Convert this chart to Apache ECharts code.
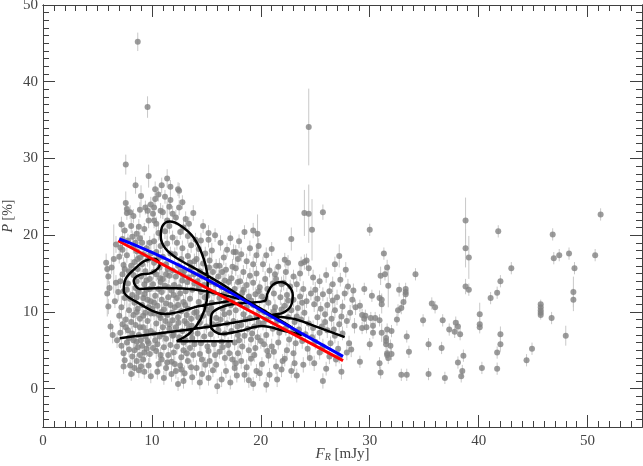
<!DOCTYPE html>
<html><head><meta charset="utf-8">
<script src="https://cdn.jsdelivr.net/npm/echarts@6/dist/echarts.min.js"></script>
<style>html,body{margin:0;padding:0;background:#fff}#c{width:643px;height:466px}</style>
</head><body><div id="c"></div>
<script>
// ---- data: [F_R (mJy), P (%), error of P (%)] ----
const cloudLeft = [
[5.8,16.4,1.2],[5.9,15.6,0.8],[6.0,14.6,1.0],[6.1,13.1,0.9],[5.9,12.4,3.0],[6.0,10.7,1.0],[6.2,8.1,0.8],[6.4,7.0,1.1],[6.6,11.4,0.9],[6.8,6.3,1.0],[6.5,16.9,4.5],[6.3,15.8,0.9],[6.7,13.8,1.0],[6.9,12.6,1.2],[7.0,17.2,0.9],[7.1,18.4,1.0],[7.0,9.5,0.8],[7.2,10.6,1.5],[7.3,8.4,0.9],[7.2,5.6,1.1],[7.4,4.6,0.9],[7.5,3.7,1.0],[7.3,14.9,0.8],[7.4,16.1,1.0],[7.6,24.2,1.5],[7.7,23.4,0.9],[7.7,22.9,0.9],[7.6,29.2,1.3],[7.3,19.5,1.0],[6.7,18.8,1.1],[7.3,18.1,0.8],[7.8,19.3,0.9],[7.5,11.8,1.0],[7.7,12.9,2.8],[7.8,7.6,1.0],[7.9,6.6,0.9],[7.6,9.0,1.2],[7.9,15.3,0.8],[7.8,13.7,1.0],[7.9,10.2,0.9],[7.7,17.4,1.0],[7.5,20.6,0.9],[7.9,5.1,1.0],[8.0,3.0,0.8],
[8.1,21.2,0.9],[8.8,21.1,1.0],[8.2,19.8,0.8],[8.6,20.2,1.0],[8.9,19.6,0.9],[8.5,26.5,1.1],[9.0,25.1,1.4],[9.7,27.7,1.5],[8.3,18.6,1.0],[8.6,17.9,0.9],[8.9,17.1,1.1],[8.4,16.5,1.0],[8.7,15.6,0.9],[9.1,16.2,1.0],[8.3,14.8,1.0],[8.6,14.0,1.0],[9.0,14.6,0.8],[9.3,13.6,1.1],[8.5,13.1,0.9],[8.2,12.2,1.2],[8.8,12.6,1.0],[9.2,11.8,0.9],[9.5,12.9,1.0],[8.4,11.2,0.9],[8.7,10.4,1.1],[9.1,10.9,1.0],[9.4,9.9,0.8],[8.3,9.6,1.0],[8.9,9.1,0.9],[9.6,8.8,1.2],[8.5,8.3,1.0],[9.2,8.0,0.9],[8.2,7.2,1.0],[8.8,7.0,1.1],[9.4,6.8,0.9],[8.6,6.1,1.0],[9.1,5.6,1.0],[8.4,5.0,0.9],[9.5,5.2,1.1],[8.9,4.4,1.0],[8.6,3.6,0.9],[8.4,2.7,1.0],[9.2,3.8,0.9],[9.7,3.0,1.0],[9.3,2.2,0.9],[9.8,19.0,0.9],[9.5,18.3,1.0],[9.9,17.6,1.0],[9.6,16.8,0.9],[9.4,15.3,1.0],[9.8,14.3,3.5],[9.9,11.4,1.0],[9.7,10.6,0.9],[9.9,7.5,1.0],[9.6,6.2,0.9],[9.8,4.5,1.0],[9.4,23.6,0.9],[9.7,21.9,1.0],[9.6,23.2,0.9],[9.3,20.8,0.8],[8.0,23.0,0.9],[9.9,24.0,1.0],
[8.1,16.0,0.9],[8.7,16.9,1.0],[9.2,17.5,0.9],[8.0,11.7,1.0],[8.6,11.9,0.9],[9.3,12.3,1.0],[8.1,8.7,0.9],[8.9,8.0,1.0],[9.5,7.4,0.9],[8.3,6.3,1.0],[9.0,6.3,0.9],[9.7,5.9,1.0],[8.7,5.4,0.9],[9.3,4.7,1.0],[8.2,4.2,0.9],[9.0,2.9,1.0],[7.6,8.0,0.9],[7.4,12.7,1.0],[7.1,14.0,0.9],[7.5,15.6,1.0],[8.5,19.0,0.9],[9.1,19.0,1.0],[9.5,14.1,0.9],[9.8,13.0,1.0],[9.2,9.5,0.9],[9.9,9.8,1.0],[8.6,10.0,0.9],[9.6,11.6,1.0]
];
const cloudMid = [
[10.3,26.0,1.0],[10.9,26.5,1.0],[11.7,26.3,0.9],[10.3,24.7,1.0],[11.2,25.0,0.9],[11.7,24.6,1.0],[11.6,23.7,0.9],[11.4,27.4,1.2],[10.1,22.8,0.9],[10.8,23.2,1.0],[11.0,23.0,0.9],[10.2,23.6,1.0],[10.2,21.9,1.0],[10.4,21.5,0.9],[11.6,21.2,1.0],[11.2,20.5,1.0],[11.9,19.7,0.9],[10.6,20.3,1.0],[10.2,19.2,1.0],[10.8,18.6,0.9],[11.4,18.9,1.0],[10.4,17.8,1.1],[11.0,17.2,1.0],[11.7,17.6,0.9],[10.2,16.4,1.0],[10.7,15.8,0.9],[11.3,16.2,1.0],[11.9,15.4,1.0],[10.4,14.9,0.9],[11.0,14.3,1.0],[11.6,14.7,0.9],[10.1,13.6,1.0],[10.6,13.0,1.2],[11.2,13.4,0.9],[11.8,12.8,1.0],[10.3,12.1,1.0],[10.9,11.6,0.9],[11.5,11.9,1.0],[10.5,10.8,1.0],[11.1,10.3,0.9],[11.7,10.9,1.0],[10.2,9.8,0.9],[10.8,9.2,1.0],[11.4,9.6,1.0],[11.9,8.9,0.9],[10.4,8.5,1.0],[11.0,8.0,0.9],[11.6,7.8,1.0],[10.2,7.2,1.0],[10.7,6.8,0.9],[11.3,6.5,1.0],[11.9,6.9,0.9],[10.5,5.8,1.0],[11.1,5.4,0.9],[11.7,5.7,1.0],[10.4,4.9,1.0],[10.9,3.8,0.9],[11.3,2.7,1.0],[11.5,4.4,0.9],[10.6,3.2,1.0],[11.8,3.5,0.9],[10.9,12.6,3.2],[11.4,21.9,2.5],
[12.5,25.8,1.0],[12.4,26.0,0.9],[12.5,23.6,1.0],[12.6,20.4,0.9],[13.8,22.9,1.0],[13.4,21.5,0.9],[12.2,22.3,1.0],[12.9,21.0,0.9],[13.3,19.9,1.0],[12.3,19.0,0.9],[12.8,18.3,1.0],[13.6,18.7,1.0],[12.1,17.5,0.9],[12.7,16.9,1.0],[13.3,17.3,0.9],[13.9,16.6,1.0],[12.4,16.0,1.0],[13.0,15.4,0.9],[13.6,15.8,1.0],[12.2,14.6,1.0],[12.8,14.1,0.9],[13.4,14.5,1.0],[13.9,13.7,0.9],[12.5,13.2,1.0],[13.1,12.7,1.0],[13.7,12.9,0.9],[12.3,11.8,1.0],[12.9,11.3,0.9],[13.5,11.7,1.0],[12.1,10.6,1.0],[12.7,10.1,0.9],[13.3,10.4,1.0],[13.9,9.9,1.0],[12.4,9.3,0.9],[13.0,8.8,1.0],[13.6,9.1,0.9],[12.2,8.0,1.0],[12.8,7.5,1.0],[13.4,7.8,0.9],[12.5,6.7,1.0],[13.1,6.3,0.9],[13.7,6.6,1.0],[12.3,5.5,1.0],[12.9,5.0,0.9],[13.5,5.3,1.0],[12.7,4.1,1.0],[13.3,3.6,0.9],[12.2,2.3,1.0],[12.7,2.5,0.9],[13.0,2.0,1.0],[12.9,1.0,1.0],[13.8,4.4,0.9],[12.1,3.2,1.0],[13.6,2.8,0.9],[12.6,12.4,2.6],[13.2,8.5,3.0],
[10.6,17.0,0.9],[11.3,14.9,1.0],[10.8,13.9,0.9],[11.5,13.2,1.0],[10.2,11.2,0.9],[11.3,11.1,1.0],[10.9,10.0,0.9],[11.6,8.4,1.0],[10.3,6.3,0.9],[11.0,7.1,1.0],[12.0,12.2,0.9],[12.9,14.8,1.0],[13.5,16.4,0.9],[12.4,10.9,1.0],[13.2,9.6,0.9],[12.0,7.0,1.0],[12.9,6.0,0.9],[13.6,7.3,1.0]
];
const cloudCentre = [
[14.7,21.2,0.9],[15.2,20.3,1.0],[15.8,20.0,0.9],[14.5,19.3,1.0],[14.0,19.4,0.9],[15.2,19.4,1.0],[14.3,18.2,1.0],[14.9,17.6,0.9],[15.5,18.0,1.0],[14.1,16.9,1.0],[14.7,16.3,0.9],[15.3,16.7,1.0],[15.9,16.0,0.9],[14.4,15.3,1.0],[15.0,14.8,1.0],[15.6,15.2,0.9],[14.2,14.0,1.0],[14.8,13.5,0.9],[15.4,13.9,1.0],[14.5,12.6,1.0],[15.1,12.1,0.9],[15.7,12.5,1.0],[14.3,11.3,1.0],[14.9,10.8,0.9],[15.5,11.2,1.0],[14.1,10.0,0.9],[14.7,9.5,1.0],[15.3,9.8,1.0],[15.9,9.2,0.9],[14.4,8.6,1.0],[15.0,8.1,0.9],[15.6,8.4,1.0],[14.2,7.2,1.0],[14.8,6.8,0.9],[15.4,7.1,1.0],[14.5,5.9,1.0],[15.1,5.5,0.9],[15.7,5.8,1.0],[14.4,4.5,1.0],[15.3,3.6,0.9],[14.1,2.7,1.0],[14.9,3.1,1.0],[15.6,2.4,0.9],[15.2,1.4,1.0],[15.8,4.4,1.0],[14.6,1.9,0.9],[15.0,10.3,2.8],[14.3,13.2,3.5],
[16.9,18.1,0.9],[17.5,17.8,1.0],[17.7,17.8,0.9],[16.3,19.0,1.0],[17.2,19.6,0.9],[16.6,17.1,1.0],[17.9,16.9,1.0],[16.2,16.0,1.0],[16.8,15.5,0.9],[17.4,15.9,1.0],[17.7,15.7,1.0],[16.1,14.6,0.9],[16.7,14.1,1.0],[17.3,14.4,1.0],[17.9,13.9,0.9],[16.4,13.2,1.0],[17.0,12.7,1.0],[17.6,13.0,0.9],[16.2,11.8,1.0],[16.8,11.3,0.9],[17.4,11.6,1.0],[16.5,10.4,1.0],[17.1,9.9,0.9],[17.7,10.2,1.0],[16.3,9.0,1.0],[16.9,8.5,0.9],[17.5,8.8,1.0],[16.1,7.6,1.0],[16.7,7.2,0.9],[17.3,7.5,1.0],[17.9,7.0,1.0],[16.4,6.1,0.9],[17.0,5.7,1.0],[17.6,6.0,1.0],[16.2,4.8,0.9],[16.7,4.0,1.0],[17.4,3.8,1.0],[16.8,2.3,0.9],[17.6,2.7,1.0],[16.4,1.2,1.0],[17.2,0.8,0.9],[17.9,4.6,1.0],[16.6,12.3,2.9],
[18.5,20.4,0.9],[19.3,20.6,1.0],[19.7,20.2,2.5],[18.7,16.6,1.0],[19.3,16.2,1.0],[18.2,17.5,0.9],[19.0,18.3,1.0],[19.6,17.4,1.0],[18.4,15.2,0.9],[19.0,14.7,1.0],[19.6,15.0,1.0],[18.1,14.0,0.9],[18.7,13.5,1.0],[19.3,13.8,1.0],[19.9,13.2,0.9],[18.3,12.5,1.0],[18.9,12.0,1.0],[19.5,12.3,0.9],[18.1,11.1,1.0],[18.7,10.6,1.0],[19.3,10.9,0.9],[19.9,10.2,1.0],[18.4,9.7,1.0],[19.0,9.2,0.9],[19.6,9.5,1.0],[18.2,8.3,1.0],[18.8,7.8,0.9],[19.4,8.1,1.0],[18.5,6.9,1.0],[19.1,6.4,0.9],[19.7,6.7,1.0],[18.3,5.5,1.0],[18.9,5.0,0.9],[19.5,5.3,1.0],[18.5,1.8,1.0],[19.6,2.3,0.9],[19.9,2.0,1.0],[18.2,3.6,1.0],[19.1,3.9,0.9],[18.7,2.8,1.0],[19.3,0.6,0.9],[18.0,19.2,0.9],[19.8,18.6,1.0]
];
const cloudRight = [
[21.6,15.9,1.0],[22.2,16.8,0.9],[20.5,17.4,1.0],[21.0,18.2,0.9],[20.2,16.2,1.0],[20.8,15.4,0.9],[21.3,14.9,1.0],[20.4,14.3,1.0],[21.4,14.3,0.9],[21.9,13.6,1.0],[20.6,13.0,1.0],[21.2,12.4,0.9],[20.1,12.0,1.0],[21.8,11.9,1.0],[20.7,11.2,0.9],[21.3,10.6,1.0],[20.3,10.0,1.0],[21.9,10.3,0.9],[20.9,9.4,1.0],[21.5,8.8,1.0],[20.2,8.5,0.9],[21.1,7.8,1.0],[21.7,7.3,1.0],[20.5,7.0,0.9],[20.3,5.8,1.0],[21.0,5.5,1.0],[21.6,6.0,0.9],[20.7,4.3,1.0],[21.4,2.9,1.0],[22.0,3.6,0.9],[21.9,2.5,1.0],[20.8,1.8,0.9],[20.5,0.5,1.0],[21.2,4.8,1.0],[20.1,3.2,0.9],[21.5,1.2,1.0],
[22.8,19.5,1.5],[22.5,16.4,1.0],[23.7,16.3,0.9],[24.0,16.5,1.0],[24.2,16.7,0.9],[24.4,15.7,1.0],[24.0,22.9,3.0],[24.4,22.8,3.8],[24.7,20.7,4.0],[22.3,15.2,1.0],[23.0,14.6,0.9],[23.6,15.0,1.0],[22.1,13.8,1.0],[22.7,13.3,0.9],[23.3,13.6,1.0],[23.9,13.0,1.0],[22.4,12.2,0.9],[23.0,11.6,1.0],[23.6,12.0,1.0],[24.2,11.4,0.9],[22.2,10.8,1.0],[22.8,10.2,1.0],[23.4,10.5,0.9],[24.0,9.9,1.0],[22.5,9.3,1.0],[23.1,8.7,0.9],[23.7,9.0,1.0],[22.3,7.9,1.0],[22.9,7.4,0.9],[23.5,7.7,1.0],[24.1,7.1,1.0],[22.6,6.4,0.9],[23.2,5.9,1.0],[23.8,6.2,1.0],[22.4,5.0,0.9],[23.0,4.6,1.0],[24.3,5.2,1.0],[22.8,2.3,0.9],[23.9,3.1,1.0],[24.5,4.0,1.0],[23.3,1.7,0.9],[22.2,3.9,1.0],
[25.7,23.0,1.0],[26.8,16.2,1.0],[27.2,17.3,1.5],[27.8,15.5,1.0],[24.8,14.5,1.0],[25.4,14.0,0.9],[26.0,14.8,1.0],[26.6,13.6,1.0],[27.3,14.2,0.9],[28.0,13.3,1.0],[25.0,12.9,1.0],[25.7,12.3,0.9],[26.3,12.7,1.0],[27.0,11.9,1.0],[27.7,12.4,0.9],[28.4,11.6,1.0],[24.9,11.0,1.0],[25.5,10.4,0.9],[26.1,10.9,1.0],[26.8,10.2,1.0],[27.5,10.7,0.9],[28.2,9.9,1.0],[25.2,9.3,1.0],[25.9,8.7,0.9],[26.5,9.1,1.0],[27.2,8.4,1.0],[27.9,8.8,0.9],[28.6,8.2,1.0],[24.8,7.9,1.0],[25.4,7.3,0.9],[26.1,7.6,1.0],[26.8,6.9,1.0],[27.5,7.2,0.9],[25.0,6.1,1.0],[25.7,5.5,1.0],[26.4,5.9,0.9],[27.1,5.2,1.0],[28.1,5.9,1.0],[26.3,4.2,1.0],[26.9,3.8,0.9],[27.9,4.7,1.0],[28.3,5.1,1.0],[25.7,1.0,1.0],[26.0,2.6,0.9],[27.4,2.2,1.0],[24.9,3.3,1.0],[27.2,4.2,0.9],[28.7,10.6,1.0],[28.5,12.8,0.9]
];
const cloudExtra = [
[7.2,21.4,1.0],[8.3,22.5,0.9],[8.9,23.3,1.0],[10.6,25.3,0.9],[11.9,22.8,1.0],[12.8,24.3,0.9],[13.1,22.1,1.0],
[7.1,7.3,1.0],[7.7,6.0,0.9],[7.4,2.9,1.0],[8.1,1.9,0.9],[8.8,2.4,1.0],[9.9,1.6,0.9],[10.5,2.2,1.0],[11.1,1.4,0.9],[11.8,1.9,1.0],[12.4,0.6,0.9],[13.7,1.5,1.0],[14.4,0.8,0.9],[16.0,0.3,1.0],[17.8,1.7,0.9],[18.9,1.1,1.0],
[10.15,15.2,0.9],[10.75,14.4,1.0],[11.45,15.6,0.9],[12.05,13.5,1.0],[12.65,15.3,0.9],[13.25,13.9,1.0],[13.85,14.9,0.9],[14.6,14.6,1.0],[15.25,15.8,0.9],[15.85,13.6,1.0],[16.45,15.2,0.9],[17.05,13.9,1.0],
[10.05,10.4,0.9],[10.65,9.6,1.0],[11.25,8.8,0.9],[11.85,9.9,1.0],[12.45,8.6,0.9],[13.05,10.9,1.0],[13.65,8.2,0.9],[14.25,9.3,1.0],[14.85,11.9,0.9],[15.45,10.5,1.0],[16.05,8.3,0.9],[16.65,9.7,1.0],[17.25,10.9,0.9],[17.85,8.1,1.0],
[10.1,5.3,0.9],[10.8,4.4,1.0],[11.4,3.4,0.9],[12.0,4.7,1.0],[12.6,3.0,0.9],[13.2,4.6,1.0],[13.9,5.8,0.9],[14.6,3.8,1.0],[15.2,4.9,0.9],[15.9,3.1,1.0],[16.5,5.4,0.9],[17.1,4.6,1.0],[17.7,3.3,0.9],
[18.4,12.9,1.0],[19.1,11.5,0.9],[19.8,12.7,1.0],[20.4,11.6,0.9],[21.1,13.7,1.0],[18.6,9.0,0.9],[19.2,7.2,1.0],[19.8,8.6,0.9],[20.5,9.0,1.0],[21.2,10.1,0.9],[20.0,6.2,1.0],[20.6,4.9,0.9],[18.0,6.3,1.0],[19.4,4.4,0.9],
[22.5,11.5,1.0],[23.3,9.4,0.9],[23.8,11.2,1.0],[24.6,12.4,0.9],[25.2,11.7,1.0],[25.9,9.7,0.9],[26.6,11.5,1.0],[27.4,9.4,0.9],[25.6,8.1,1.0],[24.4,8.5,0.9],[26.7,7.7,1.0],[24.7,6.7,0.9],[23.1,3.3,1.0],[25.4,4.7,0.9]
];
const sparseBright = [
[30.0,20.7,0.8],[51.2,22.7,0.8],[38.8,21.9,3.0],[41.8,20.5,0.8],[46.8,20.1,0.8],[31.3,17.6,0.8],[38.8,18.3,2.5],[39.1,17.1,2.8],[46.9,17.0,0.8],[47.4,17.4,0.8],[48.3,17.6,0.8],[50.7,17.4,0.8],[48.8,15.7,0.8],[43.0,15.7,0.8],[31.6,15.8,1.0],[31.0,14.7,1.2],[31.4,14.9,0.8],[34.2,14.9,0.8],[31.7,13.4,2.8],[42.0,14.0,0.8],[29.5,13.0,0.8],[32.7,12.9,0.9],[33.3,13.0,0.8],[33.3,12.6,0.8],[33.3,12.3,0.8],[38.8,13.3,1.0],[39.1,12.9,0.8],[48.7,12.6,2.0],[48.7,11.6,1.5],[30.2,12.1,0.8],[30.9,11.8,1.0],[31.1,11.6,0.8],[31.1,11.0,1.2],[33.1,11.3,0.8],[32.9,10.5,0.8],[32.6,10.2,0.8],[32.5,9.0,0.8],[41.1,11.8,0.8],[41.7,12.5,0.8],[35.7,11.1,0.8],[36.0,10.6,0.8],[45.7,11.0,0.6],[45.7,10.6,0.6],[45.7,10.2,0.6],[45.7,9.9,0.6],[45.7,9.6,0.6],[46.7,9.2,0.8],[29.1,10.8,0.8],[29.3,9.6,0.8],[29.6,9.5,0.8],[29.5,9.1,0.8],[30.1,9.2,0.8],[30.5,9.2,0.8],[30.9,8.9,0.8],[34.9,8.9,0.8],[36.7,8.9,0.8],[37.9,8.6,0.8],[38.1,8.1,0.8],[37.8,7.4,0.8],[38.3,7.1,0.8],[40.1,9.7,1.5],[40.1,8.4,0.8],[40.1,8.0,0.8],[37.3,7.7,0.8],[29.3,7.9,0.8],[29.7,8.0,0.8],[30.3,8.2,0.8],[31.1,7.3,1.2],[31.6,7.7,0.8],[32.0,7.5,0.8],[30.3,7.3,0.8],[31.5,6.6,0.8],[31.5,6.2,0.8],[31.5,5.8,0.8],[31.9,5.6,0.8],[33.4,6.8,0.8],[42.0,7.1,1.0],[42.0,5.8,1.0],[48.0,6.9,1.3],[30.0,5.8,0.8],[31.6,4.6,0.8],[31.6,4.4,0.8],[32.0,4.5,0.8],[31.7,4.0,0.8],[33.6,4.8,0.8],[35.4,5.8,0.8],[36.6,5.3,0.8],[41.7,4.7,0.8],[44.9,5.2,0.8],[44.4,3.7,0.8],[38.1,3.4,0.8],[38.6,4.3,0.8],[30.9,3.3,0.8],[31.0,2.1,0.8],[32.9,1.8,0.8],[33.4,1.8,0.8],[35.4,1.9,0.8],[36.9,1.4,0.8],[38.5,2.3,0.8],[38.4,1.6,0.8],[40.3,2.7,0.8],[41.7,2.6,0.8],[29.1,3.5,0.8]
];
const outliers = [[8.7,45.2,1.2],[9.6,36.7,1.4],[24.4,34.1,5.0]];

// black track (F_R, P); '-' separates strokes
const trackX = [7.04,14.39,19.90,'-',17.42,12.28,13.47,14.48,15.03,15.12,14.76,13.84,12.64,11.63,10.99,10.81,11.26,12.37,14.02,16.23,18.52,20.82,22.65,23.76,22.19,20.08,18.06,16.41,15.40,15.49,16.68,18.52,20.36,20.63,21.09,21.83,22.56,22.93,22.75,22.01,21.00,23.11,25.22,27.70,'-',17.14,14.39,11.26,8.42,7.41,7.59,8.42,9.34,10.26,10.72,9.98,8.88,8.33,8.88,10.72,13.47,15.77,18.06];
const trackY = [6.58,7.89,9.20,'-',6.19,6.19,7.24,9.07,11.43,14.04,16.92,19.67,21.24,21.77,21.24,19.80,18.23,16.92,15.61,13.78,11.69,9.72,8.15,6.98,7.50,8.15,7.50,7.11,8.15,9.72,10.77,11.17,11.43,12.47,13.52,13.91,13.39,12.21,10.77,9.86,9.59,9.07,8.02,6.71,'-',11.43,10.77,9.72,11.43,12.74,14.31,15.61,16.66,16.92,16.14,15.09,14.83,14.04,13.00,13.13,13.00,12.47,11.69];
// fits
const redFitX = [6.9,27.55];
const redFitY = [19.28,3.66];
const blueFitX = [7.0,8.3,11.0,14.4,17.5,20.5,24.0,27.55];
const blueFitY = [19.5,18.8,17.1,14.7,12.3,9.8,7.0,4.2];

const xTicks = [0,10,20,30,40,50];
const yTicks = [0,10,20,30,40,50];

const allPts = cloudLeft.concat(cloudMid, cloudCentre, cloudRight, cloudExtra, sparseBright, outliers);
const pair = (xs, ys) => xs.map((x, i) => x === '-' ? ['-', '-'] : [x, ys[i]]);

const chart = echarts.init(document.getElementById('c'), null, {renderer: 'canvas'});
const axCol = '#404040';
const font = 'Liberation Serif, Times New Roman, serif';
function xAx(pos, major, labels) {
  const a = {type: 'value', position: pos, min: 0, max: 55, gridIndex: 0,
    axisLine: {show: true, onZero: false, lineStyle: {color: axCol, width: 1}},
    splitLine: {show: false},
    axisTick: {show: true, inside: true, length: major ? 12 : 6, lineStyle: {color: axCol}},
    axisLabel: {show: labels, color: '#444', fontSize: 15, fontFamily: font, margin: 7}};
  if (major) { a.axisTick.customValues = xTicks; a.axisLabel.customValues = xTicks; a.interval = 10; }
  else { a.interval = 1; }
  return a;
}
function yAx(pos, major, labels) {
  const a = {type: 'value', position: pos, min: -5, max: 50, gridIndex: 0,
    axisLine: {show: true, onZero: false, lineStyle: {color: axCol, width: 1}},
    splitLine: {show: false},
    axisTick: {show: true, inside: true, length: major ? 12 : 6, lineStyle: {color: axCol}},
    axisLabel: {show: labels, color: '#444', fontSize: 15, fontFamily: font, margin: 5}};
  if (major) { a.axisTick.customValues = yTicks; a.axisLabel.customValues = yTicks; a.interval = 5; }
  else { a.interval = 1; }
  return a;
}
const xb = xAx('bottom', true, true);
xb.name = '{i|F}{s|R} [mJy]'; xb.nameLocation = 'middle'; xb.nameGap = 19; xb.nameMoveOverlap = false;
xb.nameTextStyle = {color: '#444', fontSize: 15, fontFamily: font, verticalAlign: 'top',
  rich: {i: {fontStyle: 'italic', fontSize: 15, fontFamily: font, color: '#444'},
         s: {fontStyle: 'italic', fontSize: 10, fontFamily: font, color: '#444', verticalAlign: 'bottom', padding: [6, 0, 0, 0]}}};
const yl = yAx('left', true, true);
yl.name = '{i|P} [%]'; yl.nameLocation = 'middle'; yl.nameGap = 28; yl.nameRotate = 90; yl.nameMoveOverlap = false;
yl.nameTextStyle = {color: '#444', fontSize: 14, fontFamily: font,
  rich: {i: {fontStyle: 'italic', fontSize: 14, fontFamily: font, color: '#444'}}};

chart.setOption({
  animation: false,
  backgroundColor: '#fff',
  grid: {left: 43, right: 1, top: 5, bottom: 39, outerBoundsMode: 'none', containLabel: false},
  xAxis: [xb, xAx('bottom', false, false), xAx('top', true, false), xAx('top', false, false)],
  yAxis: [yl, yAx('left', false, false), yAx('right', true, false), yAx('right', false, false)],
  series: [
    {type: 'custom', xAxisIndex: 0, yAxisIndex: 0, z: 1, silent: true,
     data: allPts,
     renderItem: function (params, api) {
       const x = api.value(0), y = api.value(1), e = api.value(2);
       const p1 = api.coord([x, y + e]);
       const p2 = api.coord([x, y - e]);
       return {type: 'line', shape: {x1: p1[0], y1: p1[1], x2: p2[0], y2: p2[1]},
               style: {stroke: '#c8c8c8', lineWidth: 1}};
     }},
    {type: 'scatter', xAxisIndex: 0, yAxisIndex: 0, z: 2, symbol: 'circle', symbolSize: 6,
     itemStyle: {color: '#828282'}, data: allPts.map(p => [p[0], p[1]])},
    {type: 'line', xAxisIndex: 0, yAxisIndex: 0, z: 3, data: pair(trackX, trackY), smooth: 0.35,
     connectNulls: false, showSymbol: false, lineStyle: {color: '#000', width: 2.5}},
    {type: 'line', xAxisIndex: 0, yAxisIndex: 0, z: 4, data: pair(redFitX, redFitY), showSymbol: false,
     lineStyle: {color: '#ff0000', width: 3}},
    {type: 'line', xAxisIndex: 0, yAxisIndex: 0, z: 5, data: pair(blueFitX, blueFitY), smooth: 0.4, showSymbol: false,
     lineStyle: {color: '#0000ff', width: 3}}
  ]
});
</script></body></html>
